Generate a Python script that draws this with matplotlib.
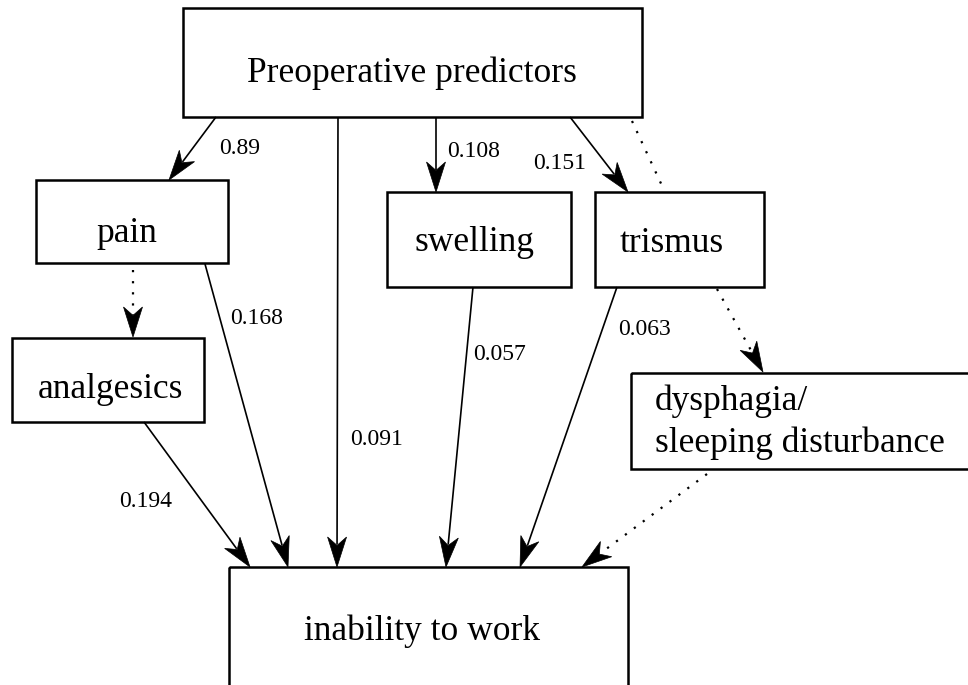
import numpy as np
import matplotlib.pyplot as plt
from matplotlib.patches import Rectangle, Polygon

# node labels
nodes = ["Preoperative predictors", "pain", "analgesics", "swelling",
         "trismus", "dysphagia/\nsleeping disturbance", "inability to work"]

# path edges: from, to, coefficient ("" = no label), dotted?
path_from = [0, 0, 0, 0, 0, 1, 1, 2, 3, 4, 4, 5]
path_to = [1, 6, 3, 4, 4, 2, 6, 6, 6, 6, 5, 6]
path_coef = ["0.89", "0.091", "0.108", "0.151", "", "", "0.168", "0.194",
             "0.057", "0.063", "", ""]
path_dotted = [False, False, False, False, True, True, False, False,
               False, False, True, True]
path_head = [True, True, True, True, False, True, True, True,
             True, True, True, True]

# layout (pixel units, y down)
boxes = [(183, 8, 642, 117), (36, 180, 228, 263), (12, 338, 204, 422),
         (387, 192, 571, 287), (595, 192, 764, 287), (631, 373, 985, 469),
         (229, 567, 628, 700)]
text_pos = [(412, 82, 'center'), (127, 242, 'center'), (110, 398, 'center'),
            (474, 251, 'center'), (672, 252, 'center'), (655, 410, 'left'),
            (422, 640, 'center')]
edge_pts = [((216, 117), (169, 180)), ((338, 117), (337, 567)),
            ((436, 117), (436, 192)), ((570, 117), (628, 192)),
            ((632, 121), (664, 190)), ((133, 270), (133, 337)),
            ((205, 264), (288, 567)), ((144, 422), (250, 567)),
            ((473, 287), (446, 567)), ((617, 287), (520, 567)),
            ((717, 289), (763, 372)), ((707, 474), (582, 567))]
label_pos = [(219, 154, 'left'), (350, 445, 'left'), (447, 157, 'left'),
             (533, 169, 'left'), None, None, (230, 324, 'left'),
             (172, 507, 'right'), (473, 360, 'left'), (618, 335, 'left'),
             None, None]

serif = 'Liberation Serif'

fig = plt.figure(figsize=(9.68, 6.85), dpi=100)
ax = fig.add_axes([0, 0, 1, 1])
ax.set_xlim(0, 968)
ax.set_ylim(685, 0)
ax.axis('off')

for i, (x0, y0, x1, y1) in enumerate(boxes):
    ax.add_patch(Rectangle((x0, y0), x1 - x0, y1 - y0, fill=False,
                           edgecolor='black', linewidth=1.8))
    tx, ty, ha = text_pos[i]
    for k, line in enumerate(nodes[i].split('\n')):
        ax.text(tx, ty + k * 42, line, ha=ha, va='baseline', fontsize=25.5,
                family=serif, color='black')


def draw_arrow(p0, p1, dotted, head):
    p0 = np.array(p0, float)
    p1 = np.array(p1, float)
    d = (p1 - p0) / np.hypot(*(p1 - p0))
    n = np.array([-d[1], d[0]])
    L, W = 30, 19
    end = p1 - d * L * 0.75 if head else p1
    ls = (0, (1, 4)) if dotted else '-'
    lw = 1.6 if dotted else 1.2
    ax.plot([p0[0], end[0]], [p0[1], end[1]], color='black', lw=lw,
            linestyle=ls, solid_capstyle='butt')
    if head:
        back = p1 - d * L
        pts = [p1, back + n * W / 2, p1 - d * L * 0.72, back - n * W / 2]
        ax.add_patch(Polygon(pts, closed=True, facecolor='black',
                             edgecolor='black', linewidth=0.5))


for j in range(len(path_from)):
    p0, p1 = edge_pts[j]
    draw_arrow(p0, p1, path_dotted[j], path_head[j])
    if path_coef[j]:
        lx, ly, ha = label_pos[j]
        ax.text(lx, ly, path_coef[j], ha=ha, va='baseline', fontsize=17,
                family=serif, color='black')

fig.savefig('out.png', dpi=100)
